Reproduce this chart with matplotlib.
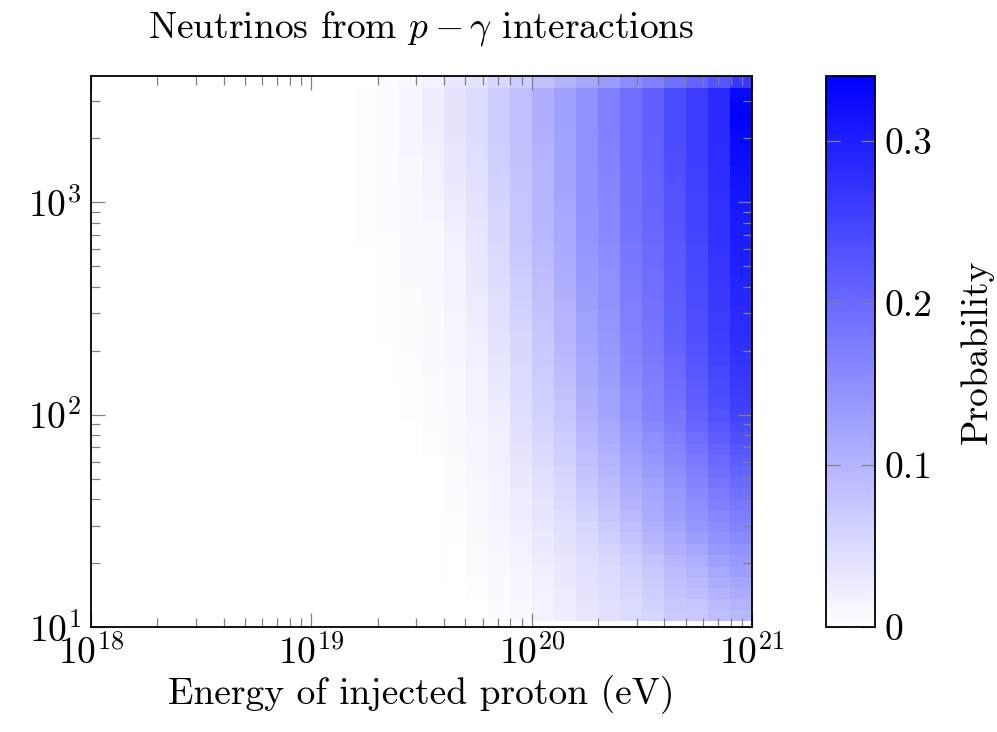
import numpy as np
import matplotlib
matplotlib.use("Agg")
import matplotlib.pyplot as plt
from matplotlib.colors import LinearSegmentedColormap
from matplotlib.ticker import LogLocator, NullFormatter

plt.rcParams['font.family'] = 'cmr10'
plt.rcParams['mathtext.fontset'] = 'cm'
plt.rcParams['axes.formatter.use_mathtext'] = True
plt.rcParams['axes.unicode_minus'] = False

# energy bins: 0.1 decade wide, 1e18 .. 1e21 eV
log_e_edges = np.round(np.arange(18.0, 21.05, 0.1), 1)
# distance bins (log spaced), the last one is cut by the plot top
dist_edges = np.append(np.logspace(1.027, 3.536, 49), 3920.0)

# below 10^19.2 eV no neutrino is produced
n_zero_cols = 12

# probability per bin, columns 10^19.2 .. 10^21 eV, lowest distance bin first
prob_by_row = [
    [0, 0, 0, 0, .001, .002, .004, .009, .017, .023, .033, .041, .047, .057, .071, .073, .087, .095],
    [0, 0, 0, 0, .001, .002, .005, .010, .018, .024, .034, .042, .049, .059, .074, .077, .091, .102],
    [0, 0, 0, 0, .001, .003, .006, .011, .019, .026, .036, .044, .053, .064, .079, .085, .101, .111],
    [0, 0, 0, 0, .002, .003, .007, .013, .021, .028, .038, .046, .057, .069, .084, .093, .110, .120],
    [0, 0, 0, 0, .002, .004, .008, .014, .022, .030, .040, .048, .061, .073, .089, .100, .118, .130],
    [0, 0, 0, 0, .002, .004, .010, .016, .024, .032, .043, .051, .066, .080, .096, .109, .128, .138],
    [0, 0, 0, 0, .002, .005, .011, .018, .027, .036, .047, .058, .073, .089, .105, .119, .137, .147],
    [0, 0, 0, .001, .003, .006, .013, .020, .029, .039, .051, .064, .081, .098, .114, .130, .146, .156],
    [0, 0, 0, .001, .003, .007, .014, .022, .032, .042, .055, .070, .088, .106, .122, .140, .154, .165],
    [0, 0, 0, .001, .003, .008, .016, .024, .034, .045, .060, .076, .095, .112, .129, .147, .162, .173],
    [0, 0, .001, .001, .004, .009, .017, .025, .035, .048, .065, .081, .100, .115, .133, .151, .169, .181],
    [0, 0, .001, .001, .004, .009, .017, .026, .038, .051, .070, .086, .106, .119, .138, .157, .176, .189],
    [0, 0, .001, .002, .005, .010, .018, .029, .041, .054, .075, .091, .111, .126, .145, .164, .184, .198],
    [0, 0, .001, .002, .005, .011, .019, .031, .044, .058, .080, .096, .117, .132, .151, .171, .191, .207],
    [0, 0, .001, .002, .005, .012, .020, .034, .047, .062, .084, .101, .123, .139, .158, .179, .200, .216],
    [0, 0, .001, .003, .006, .013, .021, .036, .050, .065, .089, .106, .128, .145, .164, .187, .207, .225],
    [0, 0, .001, .003, .006, .013, .021, .039, .054, .069, .094, .111, .134, .151, .170, .194, .215, .234],
    [0, 0, .001, .004, .007, .014, .022, .042, .057, .072, .098, .116, .140, .158, .177, .202, .223, .243],
    [0, 0, .003, .004, .007, .015, .023, .044, .060, .076, .103, .121, .145, .164, .183, .209, .231, .252],
    [0, 0, .003, .004, .008, .016, .025, .045, .062, .079, .106, .124, .148, .167, .187, .213, .235, .256],
    [0, 0, .003, .005, .009, .017, .027, .047, .064, .082, .108, .126, .151, .169, .191, .216, .239, .260],
    [0, .002, .003, .005, .010, .018, .030, .048, .067, .086, .111, .129, .155, .172, .195, .220, .243, .264],
    [0, .002, .003, .006, .010, .019, .032, .049, .069, .089, .114, .132, .158, .175, .199, .224, .247, .268],
    [0, .002, .003, .006, .011, .020, .034, .051, .071, .092, .116, .134, .161, .177, .203, .227, .251, .272],
    [0, .002, .004, .007, .012, .021, .036, .052, .073, .095, .119, .137, .164, .180, .207, .231, .255, .276],
    [0, .003, .004, .007, .013, .022, .038, .054, .075, .097, .121, .139, .166, .182, .209, .233, .257, .278],
    [0, .003, .004, .007, .014, .023, .039, .057, .077, .099, .124, .141, .168, .184, .211, .235, .259, .281],
    [.002, .003, .004, .007, .014, .025, .041, .059, .080, .101, .126, .143, .170, .186, .212, .236, .260, .284],
    [.002, .003, .004, .008, .015, .026, .042, .062, .082, .103, .129, .145, .172, .188, .214, .238, .262, .287],
    [.002, .003, .004, .008, .016, .027, .044, .064, .084, .106, .131, .147, .175, .191, .216, .240, .264, .289],
    [.002, .003, .006, .008, .017, .028, .046, .066, .086, .108, .133, .148, .177, .193, .218, .242, .266, .291],
    [.002, .003, .006, .008, .018, .029, .047, .069, .088, .110, .136, .150, .179, .195, .220, .244, .268, .294],
    [.002, .003, .006, .009, .018, .031, .049, .071, .091, .112, .138, .152, .181, .197, .221, .245, .269, .297],
    [.002, .003, .006, .009, .019, .032, .050, .074, .093, .114, .141, .154, .183, .199, .223, .247, .271, .299],
    [.003, .003, .006, .009, .020, .033, .052, .076, .095, .116, .143, .156, .185, .201, .225, .249, .273, .301],
    [.003, .004, .008, .010, .022, .034, .054, .077, .096, .117, .144, .157, .186, .202, .226, .250, .274, .303],
    [.003, .004, .008, .012, .023, .036, .055, .078, .097, .118, .144, .159, .187, .203, .228, .251, .275, .305],
    [.003, .004, .008, .013, .025, .037, .057, .079, .098, .119, .145, .160, .188, .204, .229, .252, .276, .308],
    [.003, .004, .008, .015, .027, .039, .059, .079, .099, .121, .145, .161, .188, .206, .231, .254, .278, .311],
    [.003, .004, .010, .016, .028, .040, .060, .080, .100, .122, .146, .163, .189, .207, .232, .255, .279, .314],
    [.003, .005, .010, .018, .030, .042, .062, .081, .101, .123, .146, .164, .190, .208, .234, .256, .280, .317],
    [.003, .005, .010, .019, .032, .043, .064, .082, .102, .124, .147, .166, .191, .209, .235, .257, .281, .321],
    [.003, .005, .012, .021, .033, .045, .065, .083, .103, .125, .147, .167, .192, .210, .237, .258, .282, .325],
    [.003, .005, .012, .022, .035, .046, .067, .084, .104, .126, .148, .168, .193, .211, .238, .259, .283, .329],
    [.003, .005, .012, .023, .036, .047, .068, .084, .105, .127, .148, .169, .193, .212, .239, .260, .284, .333],
    [.003, .005, .012, .023, .036, .047, .068, .084, .105, .127, .148, .169, .193, .212, .239, .260, .284, .340],
    [.003, .005, .012, .023, .036, .047, .068, .084, .105, .127, .148, .169, .193, .212, .239, .260, .284, .336],
    [.003, .005, .012, .023, .036, .047, .068, .084, .105, .127, .148, .169, .193, .212, .239, .260, .284, .328],
    [.002, .004, .010, .018, .029, .038, .054, .067, .084, .102, .118, .135, .154, .170, .191, .208, .227, .265],
]

prob = np.array(prob_by_row)
prob = np.hstack([np.zeros((prob.shape[0], n_zero_cols)), prob])

energy_edges = 10.0 ** log_e_edges

cmap = LinearSegmentedColormap.from_list('whiteblue', ['white', 'blue'])

fig = plt.figure(figsize=(9.97, 7.32), dpi=100)
ax = fig.add_axes([0.0913, 0.1434, 0.663, 0.7527])
cax = fig.add_axes([0.8285, 0.1434, 0.0491, 0.7527])

mesh = ax.pcolormesh(energy_edges, dist_edges, prob, cmap=cmap,
                     vmin=0, vmax=prob.max(), shading='flat')

ax.set_xscale('log')
ax.set_yscale('log')
ax.set_xlim(1e18, 1e21)
ax.set_ylim(10, 3920)

fs = 27
ax.xaxis.set_major_locator(LogLocator(base=10, numticks=10))
ax.yaxis.set_major_locator(LogLocator(base=10, numticks=10))
ax.xaxis.set_minor_locator(LogLocator(base=10, subs=np.arange(2, 10), numticks=20))
ax.yaxis.set_minor_locator(LogLocator(base=10, subs=np.arange(2, 10), numticks=20))
ax.xaxis.set_minor_formatter(NullFormatter())
ax.yaxis.set_minor_formatter(NullFormatter())
ax.tick_params(which='both', direction='in', top=True, right=True,
               color='#808080', labelsize=fs, width=0.9)
ax.tick_params(which='major', length=10)
ax.tick_params(which='minor', length=6.5)
ax.tick_params(axis='x', pad=5)
ax.tick_params(axis='y', pad=7)
for sp in ax.spines.values():
    sp.set_linewidth(1.3)

ax.set_xlabel('Energy of injected proton (eV)', fontsize=fs, labelpad=3)
ax.set_title(r'Neutrinos from $p-\gamma$ interactions', fontsize=fs, pad=28)

cb = fig.colorbar(mesh, cax=cax)
cb.set_ticks([0, 0.1, 0.2, 0.3])
cb.set_ticklabels(['0', '0.1', '0.2', '0.3'])
cb.ax.minorticks_off()
cb.ax.tick_params(direction='in', left=True, right=True, color='#808080',
                  labelsize=fs, length=10, width=0.9, pad=7)
cb.outline.set_linewidth(1.3)
cb.set_label('Probability', fontsize=fs, labelpad=20)

fig.savefig('out.png', dpi=100)
